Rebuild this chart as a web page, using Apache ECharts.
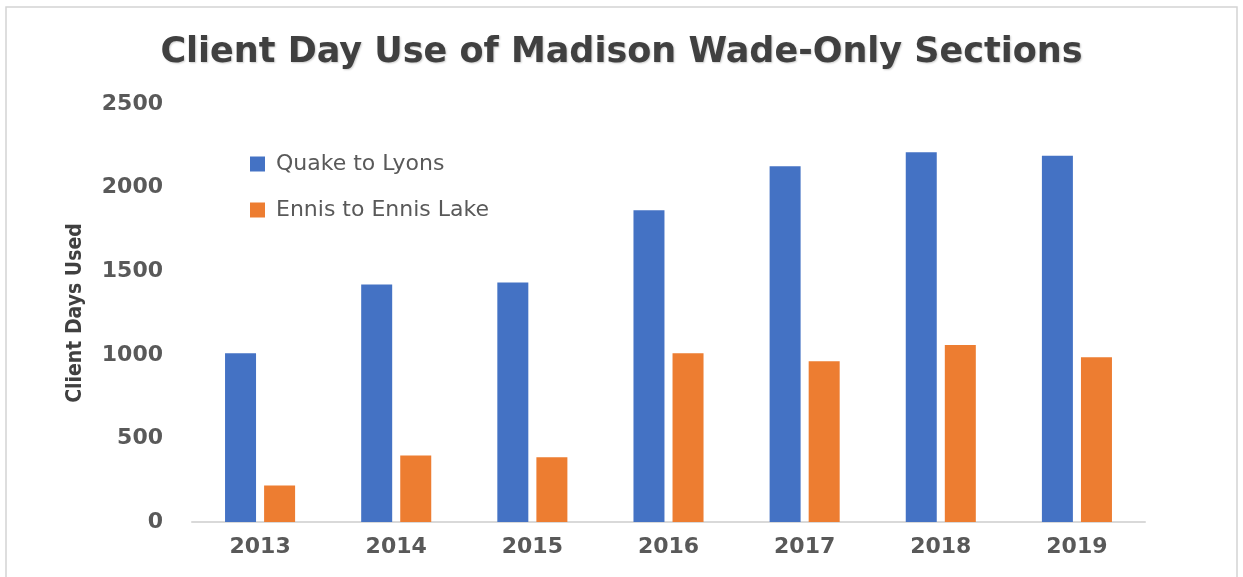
<!DOCTYPE html>
<html style="height: 100%">
<head>
<meta charset="utf-8">
<script src="https://cdn.jsdelivr.net/npm/echarts@6/dist/echarts.min.js"></script>
</head>
<body style="height: 100%; margin: 0; background: #fff">
<div id="main" style="width: 1243px; height: 577px"></div>
<script type="text/javascript">
// years on the x axis
var years = ['2013', '2014', '2015', '2016', '2017', '2018', '2019'];
// client days per section
var quakeToLyons = [1010, 1420, 1432, 1865, 2127, 2212, 2190];
var ennisToEnnisLake = [218, 398, 388, 1010, 962, 1058, 986];
var yTicks = [0, 500, 1000, 1500, 2000, 2500];

var myChart = echarts.init(document.getElementById('main'));
var labelGray = '#595959';

var option = {
    backgroundColor: '#fff',
    animation: false,
    title: {
        text: 'Client Day Use of Madison Wade-Only Sections',
        left: 'center',
        top: 30,
        textStyle: {
            fontFamily: 'DejaVu Sans',
            fontWeight: 'bold',
            fontSize: 35,
            color: '#404040',
            textShadowColor: 'rgba(0,0,0,0.2)',
            textShadowBlur: 2,
            textShadowOffsetX: 1,
            textShadowOffsetY: 1
        }
    },
    legend: {
        orient: 'vertical',
        left: 245,
        top: 147,
        itemWidth: 15,
        itemHeight: 15,
        itemGap: 22,
        itemTextGap: 12,
        icon: 'rect',
        textStyle: {
            fontFamily: 'DejaVu Sans',
            fontSize: 22,
            lineHeight: 24,
            color: labelGray,
            padding: [0, 0, 0, 6]
        },
        data: ['Quake to Lyons', 'Ennis to Ennis Lake']
    },
    graphic: [{
        type: 'rect',
        shape: { x: 6, y: 7, width: 1231, height: 600 },
        style: { fill: 'none', stroke: '#d4d4d4', lineWidth: 1.5 },
        silent: true
    }],
    grid: {
        left: 192,
        right: 98,
        top: 104,
        bottom: 55
    },
    xAxis: {
        type: 'category',
        data: years,
        axisLine: { lineStyle: { color: '#d9d9d9', width: 2 } },
        axisTick: { show: false },
        axisLabel: {
            margin: 14,
            fontFamily: 'DejaVu Sans',
            fontWeight: 'bold',
            fontSize: 22,
            color: labelGray
        }
    },
    yAxis: {
        type: 'value',
        min: yTicks[0],
        max: yTicks[yTicks.length - 1],
        interval: yTicks[1] - yTicks[0],
        name: 'Client Days Used',
        nameLocation: 'middle',
        nameRotate: 90,
        nameGap: 106,
        nameTextStyle: {
            fontFamily: 'DejaVu Sans Condensed, DejaVu Sans',
            fontWeight: 'bold',
            fontSize: 21,
            color: '#404040'
        },
        splitLine: { show: false },
        axisLine: { show: false },
        axisTick: { show: false },
        axisLabel: {
            margin: 29,
            fontFamily: 'DejaVu Sans',
            fontWeight: 'bold',
            fontSize: 22,
            color: labelGray,
            formatter: function (v) { return String(v); }
        }
    },
    series: [
        {
            name: 'Quake to Lyons',
            type: 'bar',
            data: quakeToLyons,
            barWidth: 31,
            barGap: '26%',
            itemStyle: { color: '#4472C4' }
        },
        {
            name: 'Ennis to Ennis Lake',
            type: 'bar',
            data: ennisToEnnisLake,
            barWidth: 31,
            itemStyle: { color: '#ED7D31' }
        }
    ]
};
myChart.setOption(option);
</script>
</body>
</html>
